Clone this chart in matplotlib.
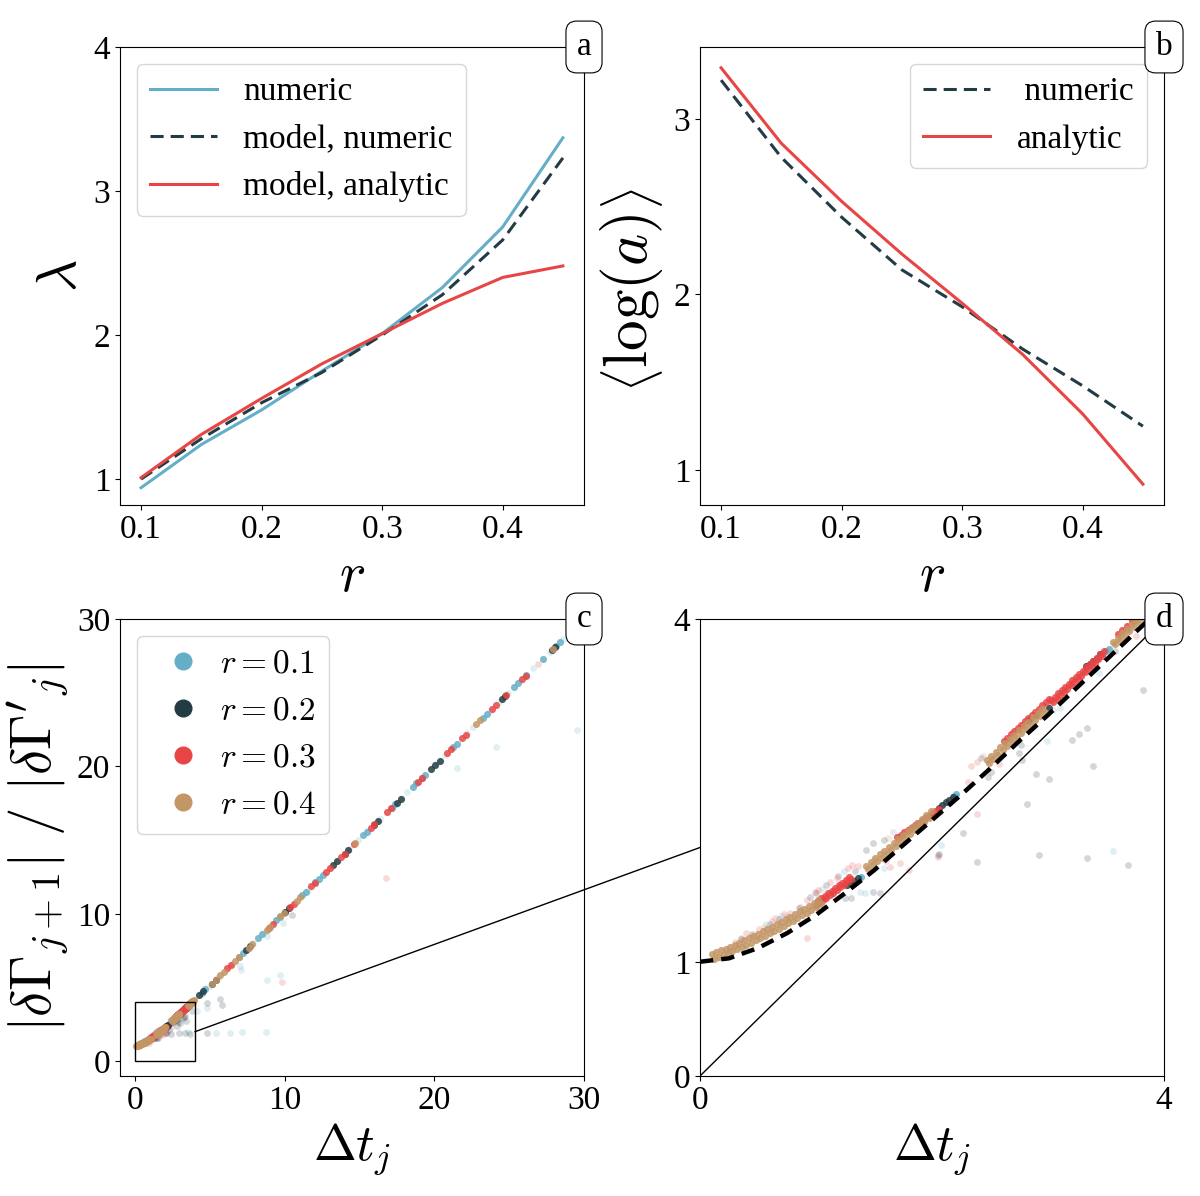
import matplotlib
matplotlib.use("Agg")
import matplotlib.pyplot as plt
from matplotlib.lines import Line2D
from matplotlib.patches import Rectangle, ConnectionPatch

plt.rcParams["font.family"] = "serif"
plt.rcParams["font.serif"] = ["Liberation Serif", "DejaVu Serif"]
plt.rcParams["mathtext.fontset"] = "cm"
plt.rcParams["font.size"] = 24

BLUE = "#65afc6"
DARK = "#233b44"
RED = "#e84545"
TAN = "#c39665"

# panel a: lambda vs r
r_vals = [0.10, 0.15, 0.20, 0.25, 0.30, 0.35, 0.40, 0.45]
lam_numeric = [0.94, 1.24, 1.48, 1.75, 2.01, 2.33, 2.75, 3.37]
lam_model_numeric = [1.00, 1.28, 1.53, 1.74, 2.00, 2.28, 2.66, 3.23]
lam_model_analytic = [1.01, 1.31, 1.56, 1.80, 2.01, 2.22, 2.40, 2.48]

# panel b: <log(a)> vs r
loga_numeric = [3.22, 2.78, 2.44, 2.14, 1.93, 1.69, 1.48, 1.25]
loga_analytic = [3.29, 2.86, 2.53, 2.23, 1.95, 1.66, 1.32, 0.92]

# panels c/d: |dG_j+1|/|dG'_j| vs dt_j  (dense points along the curve)
b_dt = [1.39, 2.19, 2.21, 3.47, 3.50, 3.53, 4.45, 4.70, 6.95, 7.20, 8.25, 8.50, 9.45, 9.70,
        11.15, 11.40, 12.05, 12.30, 12.55, 15.25, 15.50, 17.15, 17.40, 18.55, 18.80,
        19.15, 19.40, 21.25, 21.50, 23.25, 23.50, 25.35, 25.60, 26.15, 27.25, 28.15, 28.40, 29.0]
b_ratio = [1.74, 2.45, 2.47, 3.70, 3.72, 3.74, 4.65, 4.90, 7.07, 7.32, 8.36, 8.61, 9.55, 9.80,
           11.25, 11.50, 12.14, 12.39, 12.64, 15.32, 15.57, 17.21, 17.46, 18.60, 18.85,
           19.20, 19.45, 21.30, 21.55, 23.30, 23.55, 25.40, 25.65, 26.20, 27.30, 28.20, 28.45, 29.05]

d_dt = [1.27, 1.30, 1.33, 1.36, 2.06, 2.09, 2.12, 2.15, 2.18, 2.84, 2.90, 3.01,
        3.33, 3.36, 3.39, 3.42, 3.45,
        4.30, 4.55, 5.15, 5.40, 7.45, 7.70, 10.05, 10.30, 13.25, 13.50, 14.00, 14.25,
        16.00, 16.25, 17.50, 17.75, 19.80, 20.05, 20.35, 24.50, 24.75, 27.85, 28.05]
d_ratio = [1.67, 1.69, 1.71, 1.73, 2.35, 2.37, 2.40, 2.42, 2.44, 3.12, 3.16, 3.22,
           3.59, 3.61, 3.63, 3.66, 3.69,
           4.50, 4.75, 5.27, 5.52, 7.55, 7.80, 10.13, 10.38, 13.33, 13.58, 14.07, 14.32,
           16.06, 16.31, 17.55, 17.80, 19.85, 20.10, 20.40, 24.55, 24.80, 27.90, 28.10]

r_dt = [1.00, 1.03, 1.06, 1.09, 1.12, 1.15, 1.18, 1.21, 1.24, 1.27, 1.30,
        1.015, 1.045, 1.075, 1.105, 1.135, 1.165, 1.195, 1.225, 1.255, 1.285,
        1.70, 1.73, 1.76, 1.79, 1.82, 1.85, 1.88, 1.91, 1.94, 1.97, 2.00, 2.03, 2.06,
        2.62, 2.65, 2.68, 2.71, 2.74, 2.77, 2.80, 2.83, 2.86, 2.89, 2.92, 2.95, 2.98, 3.01,
        3.03, 3.06, 3.09, 3.12, 3.15, 3.18, 3.21, 3.24, 3.27, 3.30, 3.33, 3.36, 3.39, 3.42,
        3.45, 3.48,
        3.045, 3.075, 3.105, 3.135, 3.165, 3.195, 3.225, 3.255, 3.285, 3.315, 3.345, 3.375,
        3.405, 3.435, 3.465,
        3.60, 3.64, 3.68, 3.72, 3.76,
        6.15, 6.40, 8.95, 9.20, 10.35, 10.60, 11.75, 12.00, 12.75, 13.00, 13.75, 14.00,
        14.65, 15.75, 16.00, 16.85, 17.10, 18.90, 19.15, 20.85, 21.10, 21.85, 22.10,
        23.85, 24.10, 24.80, 25.85, 26.10]
r_ratio = [1.494, 1.516, 1.537, 1.559, 1.581, 1.604, 1.627, 1.650, 1.673, 1.696, 1.720,
           1.535, 1.556, 1.578, 1.600, 1.623, 1.645, 1.668, 1.691, 1.715, 1.738,
           2.092, 2.112, 2.132, 2.152, 2.173, 2.193, 2.213, 2.234, 2.255, 2.275, 2.296, 2.317, 2.340,
           2.934, 2.962, 2.990, 3.019, 3.047, 3.075, 3.103, 3.131, 3.160, 3.188, 3.216, 3.245,
           3.273, 3.302,
           3.291, 3.319, 3.348, 3.376, 3.405, 3.434, 3.462, 3.491, 3.519, 3.548, 3.577, 3.606,
           3.634, 3.663, 3.692, 3.721,
           3.275, 3.304, 3.332, 3.361, 3.390, 3.418, 3.447, 3.475, 3.504, 3.533, 3.561, 3.590,
           3.619, 3.648, 3.677,
           3.866, 3.905, 3.943, 3.982, 4.021,
           6.30, 6.55, 9.06, 9.31, 10.45, 10.70, 11.86, 12.11, 12.84, 13.09, 13.84, 14.09,
           14.74, 15.83, 16.08, 16.92, 17.17, 18.96, 19.21, 20.90, 21.15, 21.90, 22.15,
           23.90, 24.15, 24.85, 25.90, 26.15]

t_dt = [0.10, 0.14, 0.18, 0.22, 0.26, 0.30, 0.34, 0.38, 0.42, 0.46, 0.50, 0.54, 0.58, 0.62,
        0.66, 0.70, 0.74, 0.78, 0.82, 0.86, 0.90, 0.94, 0.98, 1.02,
        0.12, 0.16, 0.20, 0.24, 0.28, 0.32, 0.36, 0.40, 0.44, 0.48, 0.52, 0.56, 0.60, 0.64,
        0.68, 0.72, 0.76, 0.80, 0.84, 0.88, 0.92, 0.96, 1.00, 1.04,
        1.43, 1.47, 1.51, 1.55, 1.59, 1.63, 1.67, 1.71, 1.75, 1.79, 1.83, 1.87, 1.91, 1.95, 1.99,
        1.45, 1.49, 1.53, 1.57, 1.61, 1.65, 1.69, 1.73, 1.77, 1.81, 1.85, 1.89, 1.93, 1.97,
        2.47, 2.51, 2.55, 2.59, 2.63, 2.67, 2.71, 2.75, 2.79, 2.83, 2.87, 2.91, 2.95,
        2.49, 2.53, 2.57, 2.61, 2.65, 2.69, 2.73, 2.77, 2.81, 2.85, 2.89, 2.93, 2.97,
        3.56, 3.60, 3.64, 3.68, 3.72, 3.76, 3.80, 3.84, 3.88, 3.92,
        3.58, 3.62, 3.66, 3.70, 3.74, 3.78, 3.82, 3.86, 3.90,
        5.15, 5.40, 5.70, 5.95, 6.70, 6.95, 7.60, 7.85, 8.80, 9.05, 9.70, 9.95,
        10.80, 11.05, 14.70, 22.80, 23.05, 27.90]
t_ratio = [1.067, 1.083, 1.099, 1.115, 1.132, 1.150, 1.168, 1.186, 1.206, 1.225, 1.244,
           1.265, 1.286, 1.307, 1.327, 1.349, 1.371, 1.394, 1.417, 1.441, 1.465, 1.489,
           1.513, 1.537,
           1.028, 1.044, 1.060, 1.076, 1.094, 1.112, 1.130, 1.149, 1.168, 1.187, 1.207,
           1.228, 1.249, 1.270, 1.291, 1.313, 1.335, 1.358, 1.382, 1.406, 1.430, 1.454,
           1.478, 1.502,
           1.840, 1.873, 1.906, 1.940, 1.973, 2.007, 2.042, 2.076, 2.111, 2.145, 2.180,
           2.216, 2.251, 2.286, 2.322,
           1.811, 1.844, 1.878, 1.911, 1.945, 1.979, 2.014, 2.048, 2.083, 2.118, 2.153,
           2.188, 2.224, 2.259,
           2.765, 2.802, 2.839, 2.876, 2.914, 2.951, 2.989, 3.026, 3.064, 3.101, 3.139,
           3.177, 3.215,
           2.738, 2.775, 2.813, 2.850, 2.887, 2.925, 2.962, 3.000, 3.038, 3.075, 3.113,
           3.151, 3.189,
           3.798, 3.836, 3.875, 3.913, 3.952, 3.991, 4.029, 4.068, 4.107, 4.146,
           3.777, 3.816, 3.854, 3.893, 3.931, 3.970, 4.009, 4.047, 4.086,
           5.25, 5.50, 5.83, 6.08, 6.81, 7.06, 7.71, 7.96, 8.88, 9.13, 9.83, 10.08,
           10.90, 11.15, 14.78, 22.87, 23.12, 27.95]

# faint / scattered points
bf_dt = [5.0, 5.6, 6.1, 6.5, 7.5, 7.9, 8.7, 9.1, 10.0, 10.7, 11.6, 13.0, 13.6, 14.3, 14.9,
         15.6, 16.4, 17.8, 18.2, 20.2, 20.7, 22.2, 22.6, 23.7, 24.3, 24.9, 25.8, 26.6,
         27.7, 28.6,
         29.5, 24.15, 21.5, 8.81, 9.68, 7.02, 7.07, 8.81, 9.88, 4.84, 4.13, 5.42, 6.35,
         7.18, 8.76, 3.56, 2.08, 2.99, 3.04, 3.10, 3.44, 1.38, 1.24, 0.57, 1.42, 1.59, 1.66,
         0.70, 1.05]
bf_ratio = [5.12, 5.72, 6.22, 6.62, 7.60, 8.00, 8.80, 9.20, 10.10, 10.80, 11.70, 13.08, 13.68,
            14.38, 14.98, 15.68, 16.46, 17.86, 18.26, 20.25, 20.75, 22.25, 22.65, 23.75,
            24.35, 24.95, 25.85, 26.65, 27.75, 28.65,
            22.5, 21.3, 19.9, 5.54, 5.88, 6.46, 6.17, 8.47, 9.38, 3.62, 3.39, 1.95, 1.95,
            1.97, 2.00, 1.97, 2.02, 2.93, 3.20, 3.22, 3.53, 1.61, 1.79, 1.33, 1.60, 1.82, 2.14,
            1.40, 1.64]

df_dt = [3.82, 3.39, 3.21, 3.27, 2.90, 2.82, 2.77, 2.75, 2.78, 2.27, 2.42, 2.48, 2.51,
         3.34, 2.92, 2.05, 3.58, 2.39, 3.69, 1.55, 1.25, 1.09, 1.19, 1.34, 0.68, 0.45,
         1.49, 1.30, 2.06, 1.59, 1.49, 1.43, 4.80, 5.69, 5.81, 3.34, 3.01, 4.80, 10.48,
         0.35, 0.60, 0.85, 1.00, 0.95]
df_ratio = [3.38, 2.71, 2.94, 2.99, 2.64, 2.38, 2.90, 2.83, 2.77, 2.13, 2.78, 2.62, 2.66,
            1.91, 1.93, 1.93, 3.72, 1.87, 1.85, 1.60, 1.56, 1.67, 1.75, 1.79, 1.37, 1.24,
            1.61, 1.56, 1.94, 2.07, 2.04, 1.98, 3.96, 4.23, 3.80, 3.05, 2.60, 1.93, 9.95,
            1.20, 1.33, 1.47, 1.60, 1.57]

rf_dt = [16.8, 9.81, 26.9, 2.39, 2.31, 2.34, 2.39, 2.58, 2.99, 3.76, 0.92, 1.64, 1.60,
         1.31, 0.99, 0.92, 0.86, 0.78, 0.51, 0.40, 0.62, 1.72, 1.80, 2.05, 1.36, 1.28,
         0.15, 0.25, 5.5, 0.30, 0.35, 0.65, 0.72, 1.02, 1.12, 1.18]
rf_ratio = [12.4, 5.36, 26.95, 2.29, 2.57, 2.71, 2.75, 2.73, 3.25, 3.85, 1.21, 1.83, 1.88,
            1.85, 1.61, 1.54, 1.48, 1.43, 1.29, 1.25, 1.36, 1.86, 1.80, 1.92, 1.84, 1.82,
            1.03, 1.06, 5.62, 1.17, 1.21, 1.38, 1.42, 1.63, 1.70, 1.73]

tf_dt = [0.55, 0.75, 1.15, 1.62, 2.44]
tf_ratio = [1.30, 1.40, 1.62, 2.08, 2.80]

# model curve and diagonal for panel d
model_dt = [0.0, 0.25, 0.5, 0.75, 1.0, 1.25, 1.5, 1.75, 2.0, 2.25, 2.5, 2.75, 3.0, 3.25, 3.5, 3.75, 4.0]
model_ratio = [1.0, 1.03, 1.12, 1.25, 1.41, 1.60, 1.80, 2.02, 2.24, 2.46, 2.69, 2.93, 3.16, 3.40, 3.64, 3.88, 4.12]
diag = [0, 4]

dense = [(b_dt, b_ratio, BLUE), (d_dt, d_ratio, DARK), (r_dt, r_ratio, RED), (t_dt, t_ratio, TAN)]
faint = [(bf_dt, bf_ratio, BLUE), (df_dt, df_ratio, DARK), (rf_dt, rf_ratio, RED), (tf_dt, tf_ratio, TAN)]

fig = plt.figure(figsize=(12, 11.96), dpi=100)
W, H = 1200, 1196


def place(l, r, t, b):
    return fig.add_axes([l / W, 1 - b / H, (r - l) / W, (b - t) / H])


ax_a = place(120, 584, 47, 505)
ax_b = place(700, 1164, 47, 505)
ax_c = place(120, 584, 619, 1076)
ax_d = place(700, 1164, 619, 1076)


def tag(ax, s):
    ax.text(1, 1, s, transform=ax.transAxes, ha="center", va="center", fontsize=24,
            zorder=20, clip_on=False,
            bbox=dict(boxstyle="round,pad=0.32", fc="white", ec="black", lw=0.8))


dash = (0, (4.3, 2.3))

# a
ax_a.plot(r_vals, lam_numeric, color=BLUE, lw=2.2, label="numeric")
ax_a.plot(r_vals, lam_model_numeric, color=DARK, lw=2.2, ls=dash, label="model, numeric")
ax_a.plot(r_vals, lam_model_analytic, color=RED, lw=2.2, label="model, analytic")
ax_a.set_ylim(0.82, 4)
ax_a.set_yticks([1, 2, 3, 4])
ax_a.set_xticks([0.1, 0.2, 0.3, 0.4])
ax_a.set_xlabel(r"$r$", fontsize=40)
ax_a.set_ylabel(r"$\lambda$", fontsize=40)
ax_a.legend(loc="upper left", fontsize=24)
tag(ax_a, "a")

# b
ax_b.plot(r_vals, loga_numeric, color=DARK, lw=2.2, ls=dash, label=" numeric")
ax_b.plot(r_vals, loga_analytic, color=RED, lw=2.2, label="analytic")
ax_b.set_yticks([1, 2, 3])
ax_b.set_xticks([0.1, 0.2, 0.3, 0.4])
ax_b.set_xlabel(r"$r$", fontsize=40)
ax_b.set_ylabel(r"$\left\langle\log(a)\right\rangle$", fontsize=44)
ax_b.yaxis.set_label_coords(-0.075, 0.47)
ax_b.legend(loc="upper right", fontsize=24)
tag(ax_b, "b")

# c and d share the scatter data
for ax in (ax_c, ax_d):
    for x, y, c in faint:
        ax.scatter(x, y, s=24, color=c, alpha=0.2, lw=0)
    for x, y, c in dense:
        ax.scatter(x, y, s=26, color=c, alpha=0.85, lw=0)

ax_c.set_xlim(-1, 30)
ax_c.set_ylim(-1, 30)
ax_c.set_xticks([0, 10, 20, 30])
ax_c.set_yticks([0, 10, 20, 30])
ax_c.set_xlabel(r"$\Delta t_j$", fontsize=37)
ax_c.set_ylabel(r"$|\delta\Gamma_{j+1}|\ /\ |\delta\Gamma'_j|$", fontsize=41)
ax_c.add_patch(Rectangle((0, 0), 4, 4, fill=False, ec="black", lw=1, zorder=5))
handles = [Line2D([], [], ls="none", marker="o", ms=12, color=c) for c in (BLUE, DARK, RED, TAN)]
ax_c.legend(handles, [r"$r=0.1$", r"$r=0.2$", r"$r=0.3$", r"$r=0.4$"], loc="upper left",
            fontsize=24, handletextpad=0.1)
tag(ax_c, "c")

ax_d.plot(diag, diag, color="black", lw=1)
ax_d.plot(model_dt, model_ratio, color="black", lw=3.2, ls=(0, (3, 1.8)), zorder=6)
ax_d.set_xlim(0, 4)
ax_d.set_ylim(0, 4)
ax_d.set_xticks([0, 4])
ax_d.set_yticks([0, 1, 4])
ax_d.set_xlabel(r"$\Delta t_j$", fontsize=37)
tag(ax_d, "d")

con = ConnectionPatch(xyA=(4, 2), coordsA=ax_c.transData, xyB=(0, 2), coordsB=ax_d.transData,
                      color="black", lw=1)
fig.add_artist(con)

fig.savefig("out.png", dpi=100)
